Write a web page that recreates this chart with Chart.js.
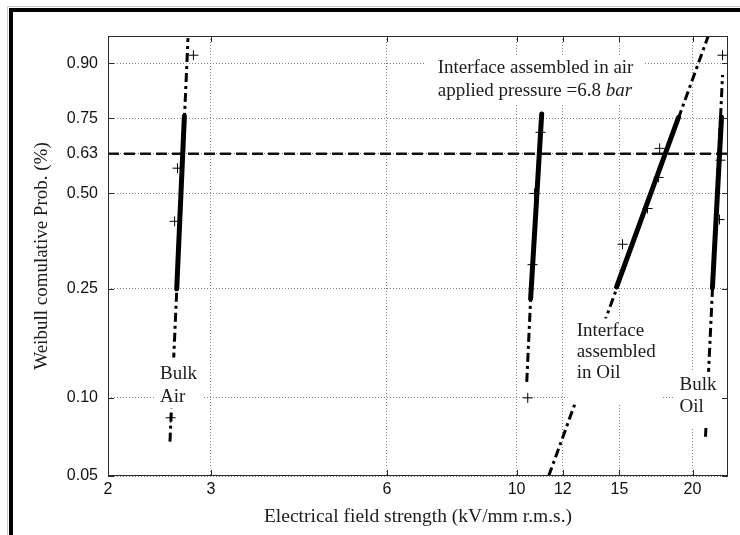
<!DOCTYPE html>
<html>
<head>
<meta charset="utf-8">
<script src="https://cdn.jsdelivr.net/npm/chart.js@4.4.1/dist/chart.umd.min.js"></script>
<style>
  html, body { margin: 0; padding: 0; background: #fff; }
  #wrap { width: 740px; height: 535px; }
</style>
</head>
<body>
<div id="wrap"><canvas id="weibullChart"></canvas></div>
<script>
// axis ticks
const xTicks = [2, 3, 6, 10, 12, 15, 20];
const probTicks = [0.05, 0.10, 0.25, 0.50, 0.632, 0.75, 0.90];
const probTickLabels = ['0.05', '0.10', '0.25', '0.50', '0.63', '0.75', '0.90'];

// breakdown points (kV/mm, cumulative prob.)
const bulkAirField = [2.56, 2.60, 2.63, 2.80];
const bulkAirProb = [0.084, 0.415, 0.583, 0.916];
const ifAirField = [10.45, 10.65, 10.73, 10.99];
const ifAirProb = [0.10, 0.302, 0.50, 0.704];
const ifOilField = [15.18, 16.75, 17.50, 17.57];
const ifOilProb = [0.352, 0.453, 0.552, 0.650];
const bulkOilField = [22.24, 22.33, 22.51];
const bulkOilProb = [0.42, 0.61, 0.916];

// weibull fits: solid part and dash-dot extension
const bulkAirFitField = [2.622, 2.702];
const bulkAirFitProb = [0.25, 0.756];
const bulkAirExtField = [2.553, 2.741];
const bulkAirExtProb = [0.068, 0.945];
const ifAirFitField = [10.57, 11.04];
const ifAirFitProb = [0.231, 0.763];
const ifAirExtField = [10.41, 10.57];
const ifAirExtProb = [0.115, 0.231];
const ifOilFitField = [14.83, 18.93];
const ifOilFitProb = [0.254, 0.753];
const ifOilExtField = [11.35, 21.30];
const ifOilExtProb = [0.05, 0.949];
const bulkOilFitField = [21.63, 22.42];
const bulkOilFitProb = [0.252, 0.753];
const bulkOilExtField = [21.05, 22.51];
const bulkOilExtProb = [0.071, 0.873];

// 63.2 % reference line
const refField = [2, 23];
const refProb = [0.632, 0.632];

const weib = function (p) {
    return Math.log(-Math.log(1 - p));
};

const pts = function (xs, ps) {
    return xs.map(function (x, i) {
        return {x: x, y: weib(ps[i])};
    });
};

const serif = '"Liberation Serif", "Times New Roman", serif';
const sans = '"Liberation Sans", Arial, sans-serif';

const notes = [
    {x: 7.33, p: 0.889, lh: 23, pad: [13, 10, 0, 1],
        lines: [[['Interface assembled in air', false]], [['applied pressure =6.8 ', false], ['bar', true]]]},
    {x: 2.455, p: 0.123, lh: 23, pad: [5, 6, 5, 0],
        lines: [[['Bulk', false]], [['Air', false]]]},
    {x: 12.67, p: 0.1774, lh: 21, pad: [9, 6, 2, 21],
        lines: [[['Interface', false]], [['assembled', false]], [['in Oil', false]]]},
    {x: 19.0, p: 0.112, lh: 22, pad: [5, 16, 2, 10],
        lines: [[['Bulk', false]], [['Oil', false]]]},
];

const drawNotes = {
    id: 'drawNotes',
    beforeDraw: function (chart) {
        const ctx = chart.ctx;
        ctx.save();
        ctx.fillStyle = '#fff';
        ctx.fillRect(0, 0, chart.width, chart.height);
        ctx.strokeStyle = '#c8c8c8';
        ctx.lineWidth = 1;
        ctx.beginPath();
        ctx.moveTo(7.5, chart.height);
        ctx.lineTo(7.5, 6.5);
        ctx.lineTo(chart.width, 6.5);
        ctx.stroke();
        ctx.strokeStyle = '#000';
        ctx.lineWidth = 4;
        ctx.beginPath();
        ctx.moveTo(11, chart.height + 5);
        ctx.lineTo(11, 10);
        ctx.lineTo(chart.width + 5, 10);
        ctx.stroke();
        ctx.restore();
    },
    afterDatasetsDraw: function (chart) {
        const ctx = chart.ctx;
        const xs = chart.scales.x, ys = chart.scales.y;
        ctx.save();
        ctx.textBaseline = 'middle';
        notes.forEach(function (n) {
            const px = xs.getPixelForValue(n.x);
            const py = ys.getPixelForValue(weib(n.p));
            let maxW = 0;
            n.lines.forEach(function (line) {
                let w = 0;
                line.forEach(function (seg) {
                    ctx.font = (seg[1] ? 'italic ' : '') + '19px ' + serif;
                    w += ctx.measureText(seg[0]).width;
                });
                maxW = Math.max(maxW, w);
            });
            const top = py - n.lh / 2 - n.pad[2];
            const h = n.lh * n.lines.length + n.pad[2] + n.pad[3];
            ctx.fillStyle = '#fff';
            ctx.fillRect(px - n.pad[0], top, maxW + n.pad[0] + n.pad[1], h);
            ctx.fillStyle = '#1c1c1c';
            n.lines.forEach(function (line, i) {
                let cx = px;
                line.forEach(function (seg) {
                    ctx.font = (seg[1] ? 'italic ' : '') + '19px ' + serif;
                    ctx.fillText(seg[0], cx, py + i * n.lh);
                    cx += ctx.measureText(seg[0]).width;
                });
            });
        });
        ctx.restore();
    },
    afterDraw: function (chart) {
        const ctx = chart.ctx;
        const a = chart.chartArea;
        const xs = chart.scales.x, ys = chart.scales.y;
        ctx.save();
        ctx.strokeStyle = '#2a2a2a';
        ctx.lineWidth = 1;
        ctx.strokeRect(a.left + 0.5, a.top + 0.5, a.right - a.left - 1, a.bottom - a.top - 1);
        ctx.beginPath();
        xTicks.forEach(function (v) {
            const px = Math.round(xs.getPixelForValue(v)) + 0.5;
            ctx.moveTo(px, a.bottom);
            ctx.lineTo(px, a.bottom - 6);
            ctx.moveTo(px, a.top);
            ctx.lineTo(px, a.top + 6);
        });
        probTicks.forEach(function (p) {
            const py = Math.round(ys.getPixelForValue(weib(p))) + 0.5;
            ctx.moveTo(a.left, py);
            ctx.lineTo(a.left + 6, py);
            ctx.moveTo(a.right, py);
            ctx.lineTo(a.right - 6, py);
        });
        ctx.stroke();
        ctx.restore();
    }
};

const marker = function (xs, ps) {
    return {
        data: pts(xs, ps), showLine: false, order: 1,
        pointStyle: 'cross', pointRadius: 5, pointBorderWidth: 1,
        borderColor: '#000', backgroundColor: '#000'
    };
};
const fit = function (xs, ps) {
    return {
        data: pts(xs, ps), showLine: true, order: 0, pointRadius: 0,
        borderColor: '#000', borderWidth: 5, borderCapStyle: 'round'
    };
};
const ext = function (xs, ps) {
    return {
        data: pts(xs, ps), showLine: true, order: 2, pointRadius: 0,
        borderColor: '#000', borderWidth: 3, borderDash: [9, 4, 3, 4]
    };
};

const ctx = document.getElementById('weibullChart').getContext('2d');
const config = {
    type: 'scatter',
    data: {
        datasets: [
            marker(bulkAirField, bulkAirProb),
            marker(ifAirField, ifAirProb),
            marker(ifOilField, ifOilProb),
            marker(bulkOilField, bulkOilProb),
            fit(bulkAirFitField, bulkAirFitProb),
            fit(ifAirFitField, ifAirFitProb),
            fit(ifOilFitField, ifOilFitProb),
            fit(bulkOilFitField, bulkOilFitProb),
            ext(bulkAirExtField, bulkAirExtProb),
            ext(ifAirExtField, ifAirExtProb),
            ext(ifOilExtField, ifOilExtProb),
            ext(bulkOilExtField, bulkOilExtProb),
            {
                data: pts(refField, refProb), showLine: true, order: 3, pointRadius: 0,
                borderColor: '#111', borderWidth: 2.5, borderDash: [11, 5]
            }
        ]
    },
    options: {
        responsive: true,
        maintainAspectRatio: false,
        animation: false,
        events: [],
        layout: {
            padding: {left: 20, top: 36, right: 12, bottom: 0}
        },
        plugins: {
            legend: {display: false},
            tooltip: {enabled: false}
        },
        scales: {
            x: {
                type: 'logarithmic',
                min: 2,
                max: 23,
                afterBuildTicks: function (scale) {
                    scale.ticks = xTicks.map(function (v) {
                        return {value: v};
                    });
                },
                afterFit: function (scale) {
                    scale.height = 59;
                },
                ticks: {
                    autoSkip: false,
                    maxRotation: 0,
                    padding: 4,
                    color: '#111',
                    font: {family: sans, size: 16},
                    callback: function (v) {
                        return String(v);
                    }
                },
                grid: {color: '#8a8a8a', lineWidth: 1, drawTicks: false},
                border: {display: false, dash: [1, 2]},
                title: {
                    display: true,
                    text: 'Electrical field strength (kV/mm r.m.s.)',
                    color: '#1c1c1c',
                    font: {family: serif, size: 19.5},
                    padding: {top: 0, bottom: 6}
                }
            },
            y: {
                type: 'linear',
                min: weib(0.05),
                max: weib(0.948),
                afterBuildTicks: function (scale) {
                    scale.ticks = probTicks.map(function (p) {
                        return {value: weib(p)};
                    });
                },
                afterFit: function (scale) {
                    scale.width = 88;
                },
                ticks: {
                    autoSkip: false,
                    padding: 10,
                    color: '#111',
                    font: {family: sans, size: 16},
                    callback: function (v, i) {
                        return probTickLabels[i];
                    }
                },
                grid: {color: '#8a8a8a', lineWidth: 1, drawTicks: false},
                border: {display: false, dash: [1, 2]},
                title: {
                    display: true,
                    text: 'Weibull comulative Prob. (%)',
                    color: '#1c1c1c',
                    font: {family: serif, size: 19},
                    padding: {top: 11, bottom: 0}
                }
            }
        }
    },
    plugins: [drawNotes]
};
const myChart = new Chart(ctx, config);
</script>
</body>
</html>
